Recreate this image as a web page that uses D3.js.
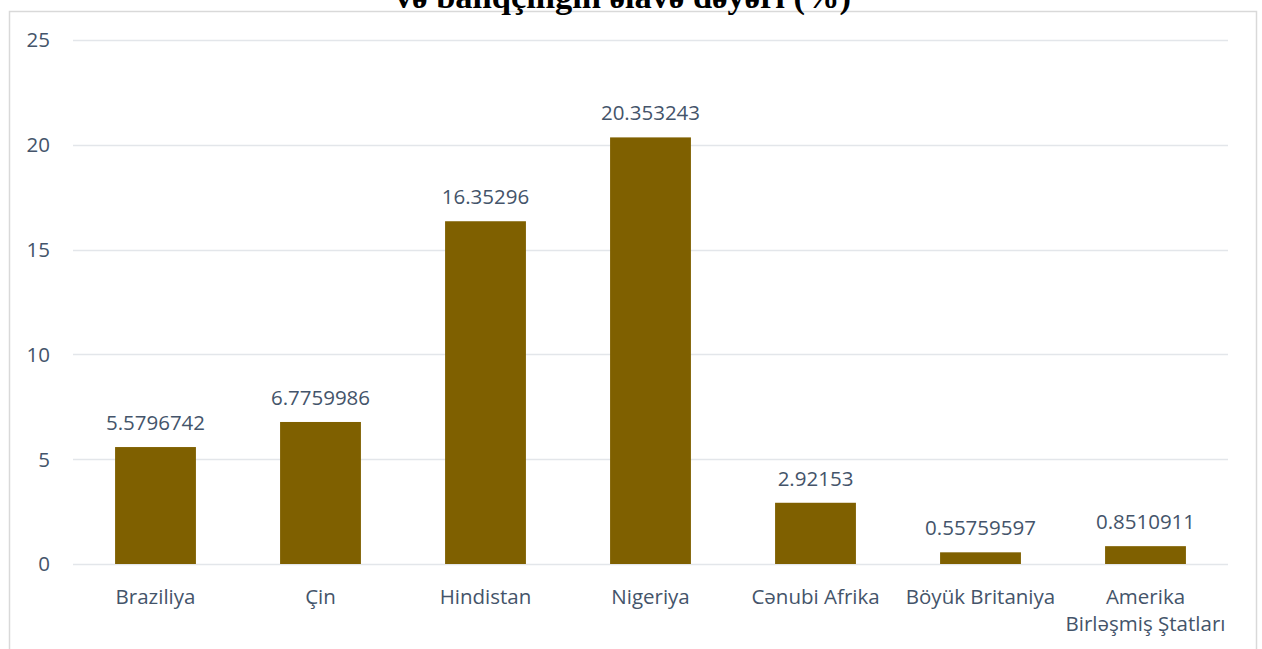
<!DOCTYPE html>
<html><head><meta charset="utf-8">
<script src="https://cdn.jsdelivr.net/npm/d3@7"></script>
<style>
body{margin:0;background:#fff;}
svg{display:block;}
</style></head>
<body>
<script>
const categories = ["Braziliya", "Çin", "Hindistan", "Nigeriya", "Cənubi Afrika", "Böyük Britaniya", "Amerika Birləşmiş Ştatları"];
const categoryLines = [["Braziliya"], ["Çin"], ["Hindistan"], ["Nigeriya"], ["Cənubi Afrika"], ["Böyük Britaniya"], ["Amerika", "Birləşmiş Ştatları"]];
const values = [5.5796742, 6.7759986, 16.35296, 20.353243, 2.92153, 0.55759597, 0.8510911];
const valueLabels = ["5.5796742", "6.7759986", "16.35296", "20.353243", "2.92153", "0.55759597", "0.8510911"];
const yTicks = [0, 5, 10, 15, 20, 25];
const title = "və balıqçılığın əlavə dəyəri (%)";

const W = 1262, H = 649;
const svg = d3.select("body").append("svg").attr("width", W).attr("height", H);
const font = "'Open Sans', 'Noto Sans', sans-serif";
const textColor = "#44546A";
const fs = 20.5;

// frame
svg.append("rect").attr("x", 9.5).attr("y", 11.5).attr("width", 1247).attr("height", 660)
  .attr("fill", "none").attr("stroke", "#D9D9D9").attr("stroke-width", 1.5);

// title (cut at top, as in the reference)
svg.append("text").attr("x", 623).attr("y", 7.5).attr("text-anchor", "middle")
  .attr("font-family", "'Liberation Serif', 'Times New Roman', serif").attr("font-weight", "bold")
  .attr("font-size", 34.5).attr("fill", "#000").text(title);

const x = d3.scaleBand().domain(categories).range([73, 1228]).paddingInner(0.51).paddingOuter(0.255);
const y = d3.scaleLinear().domain([0, 25]).range([564, 40]);

// grid
svg.append("g").selectAll("line").data(yTicks).join("line")
  .attr("x1", 73).attr("x2", 1228)
  .attr("y1", d => Math.round(y(d)) + 0.5).attr("y2", d => Math.round(y(d)) + 0.5)
  .attr("stroke", "#E3E6EA").attr("stroke-width", 1.5);

// y tick labels
svg.append("g").selectAll("text").data(yTicks).join("text")
  .attr("x", 50).attr("y", d => y(d)).attr("dy", "0.36em").attr("text-anchor", "end")
  .attr("font-family", font).attr("font-size", fs).attr("fill", textColor).text(d => d);

// bars
svg.append("g").selectAll("rect").data(values).join("rect")
  .attr("x", (d, i) => x(categories[i])).attr("width", x.bandwidth())
  .attr("y", d => y(d)).attr("height", d => y(0) - y(d))
  .attr("fill", "#7F6000");

// value labels
svg.append("g").selectAll("text").data(values).join("text")
  .attr("x", (d, i) => x(categories[i]) + x.bandwidth() / 2)
  .attr("y", d => y(d) - 17).attr("text-anchor", "middle")
  .attr("font-family", font).attr("font-size", fs).attr("fill", textColor)
  .text((d, i) => valueLabels[i]);

// category labels
const cg = svg.append("g");
categories.forEach((c, i) => {
  const cx = x(c) + x.bandwidth() / 2;
  const t = cg.append("text").attr("x", cx).attr("y", 604)
    .attr("text-anchor", "middle").attr("font-family", font).attr("font-size", fs).attr("fill", textColor);
  categoryLines[i].forEach((ln, j) => {
    t.append("tspan").attr("x", cx).attr("dy", j === 0 ? 0 : 27).text(ln);
  });
});
</script>
</body></html>
